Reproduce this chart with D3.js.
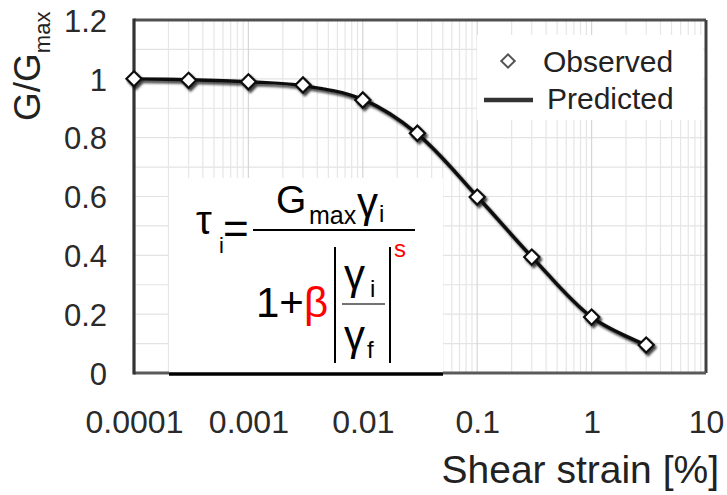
<!DOCTYPE html>
<html><head><meta charset="utf-8">
<script src="https://cdn.jsdelivr.net/npm/d3@7"></script>
<style>body{margin:0;background:#fff}svg{display:block}text{font-family:"Liberation Sans",Arial,sans-serif}</style>
</head><body><svg id="c" width="727" height="495"></svg>
<script>
// ---- data ----
const strain = [0.0001, 0.0003, 0.001, 0.003, 0.01, 0.03, 0.1, 0.3, 1, 3];
const observed = [1.0, 0.995, 0.99, 0.979, 0.928, 0.815, 0.598, 0.394, 0.19, 0.095];
const predicted = [1.0, 0.997, 0.99, 0.977, 0.93, 0.813, 0.6, 0.395, 0.19, 0.095];
const xTicks = [0.0001, 0.001, 0.01, 0.1, 1, 10];
const xTickLabels = ["0.0001", "0.001", "0.01", "0.1", "1", "10"];
const yTicks = [0, 0.2, 0.4, 0.6, 0.8, 1, 1.2];
const yTickLabels = ["0", "0.2", "0.4", "0.6", "0.8", "1", "1.2"];
const yGridValues = [0.1, 0.2, 0.3, 0.4, 0.5, 0.6, 0.7, 0.8, 0.9, 1.0, 1.1];
const legendLabels = ["Observed", "Predicted"];
const xTitle = "Shear strain [%]";

// ---- setup ----
const svg = d3.select("#c");
const x = d3.scaleLog().domain([1e-4, 10]).range([134, 706]);
const y = d3.scaleLinear().domain([0, 1.2]).range([373, 20]);

const defs = svg.append("defs");
const f = defs.append("filter").attr("id", "sh").attr("x", "-20%").attr("y", "-20%").attr("width", "140%").attr("height", "140%");
f.append("feDropShadow").attr("dx", 2).attr("dy", 2.5).attr("stdDeviation", 1.2)
  .attr("flood-color", "#000").attr("flood-opacity", 0.75);

// ---- grid ----
const grid = svg.append("g");
grid.selectAll("line.h").data(yGridValues).join("line")
  .attr("x1", x.range()[0]).attr("x2", x.range()[1])
  .attr("y1", d => y(d)).attr("y2", d => y(d))
  .attr("stroke", "#e3e3e3").attr("stroke-width", 1.2);
grid.selectAll("line.v").data(x.ticks()).join("line")
  .attr("x1", d => x(d)).attr("x2", d => x(d))
  .attr("y1", y.range()[1]).attr("y2", y.range()[0])
  .attr("stroke", d => xTicks.includes(d) ? "#d6d6d6" : "#e6e6e6").attr("stroke-width", 1.2);

// ---- frame ----
svg.append("line").attr("x1", x.range()[0]).attr("x2", x.range()[1]).attr("y1", y(1.2)).attr("y2", y(1.2))
  .attr("stroke", "#505050").attr("stroke-width", 3);
svg.append("line").attr("x1", x.range()[1]).attr("x2", x.range()[1]).attr("y1", y(1.2)).attr("y2", y(0))
  .attr("stroke", "#404040").attr("stroke-width", 3);
svg.append("line").attr("x1", x.range()[0]).attr("x2", x.range()[1]).attr("y1", y(0)).attr("y2", y(0))
  .attr("stroke", "#5a5a5a").attr("stroke-width", 3);
svg.append("line").attr("x1", x.range()[0]).attr("x2", x.range()[0]).attr("y1", y(1.2) - 1.5).attr("y2", y(0) + 1.5)
  .attr("stroke", "#333").attr("stroke-width", 3.2);

// ---- axes ----
const xa = svg.append("g").attr("transform", `translate(0,${y(0)})`)
  .call(d3.axisBottom(x).tickValues(xTicks).tickFormat((d, i) => xTickLabels[i]).tickSize(0));
xa.select(".domain").remove();
xa.selectAll("text").attr("y", 60).attr("dy", 0).attr("font-size", 32).attr("fill", "#2a2a2a")
  .style("font-family", '"Liberation Sans", Arial, sans-serif');

const ya = svg.append("g").attr("transform", `translate(${x.range()[0]},0)`)
  .call(d3.axisLeft(y).tickValues(yTicks).tickFormat((d, i) => yTickLabels[i]).tickSize(0));
ya.select(".domain").remove();
ya.selectAll("text").attr("x", -27).attr("dy", "0.36em").attr("font-size", 31).attr("fill", "#2a2a2a")
  .style("font-family", '"Liberation Sans", Arial, sans-serif');

// axis titles
svg.append("text").attr("x", 719).attr("y", 483).attr("text-anchor", "end")
  .attr("font-size", 39).attr("fill", "#222").text(xTitle);
const yt = svg.append("text").attr("transform", "translate(40,121) rotate(-90)")
  .attr("font-size", 37).attr("fill", "#222");
yt.append("tspan").text("G/G");
yt.append("tspan").attr("font-size", 22).attr("dy", 10).text("max");

// ---- legend box ----
svg.append("rect").attr("x", 477).attr("y", 35).attr("width", 226).attr("height", 85).attr("fill", "#fff");

// ---- formula box ----
svg.append("rect").attr("x", 169).attr("y", 178).attr("width", 274).attr("height", 195).attr("fill", "#fff");
svg.append("line").attr("x1", 169).attr("x2", 443).attr("y1", 374).attr("y2", 374)
  .attr("stroke", "#000").attr("stroke-width", 3.5);

// ---- series ----
const series = svg.append("g").attr("filter", "url(#sh)");
const line = d3.line().x((d, i) => x(strain[i])).y(d => y(d)).curve(d3.curveCatmullRom.alpha(0.5));
series.append("path").datum(predicted).attr("d", line)
  .attr("fill", "none").attr("stroke", "#111").attr("stroke-width", 3.4);
const sym = d3.symbol(d3.symbolSquare, 115);
series.selectAll("path.pt").data(observed).join("path").attr("class", "pt")
  .attr("d", sym)
  .attr("transform", (d, i) => `translate(${x(strain[i])},${y(d)}) rotate(45)`)
  .attr("fill", "#fff").attr("stroke", "#111").attr("stroke-width", 2.2);

// ---- legend ----
const lg = svg.append("g");
lg.append("path").attr("d", d3.symbol(d3.symbolSquare, 90))
  .attr("transform", "translate(508,61) rotate(45)")
  .attr("fill", "#fff").attr("stroke", "#555").attr("stroke-width", 2);
lg.append("line").attr("x1", 484).attr("x2", 533).attr("y1", 100).attr("y2", 100)
  .attr("stroke", "#333").attr("stroke-width", 4.5);
lg.selectAll("text").data(legendLabels).join("text")
  .attr("x", (d, i) => i === 0 ? 543 : 547).attr("y", (d, i) => i === 0 ? 72 : 109)
  .attr("font-size", 30).attr("fill", "#222").text(d => d);

// ---- formula ----
const fm = svg.append("g").attr("fill", "#000");
function t(xp, yp, size, txt, color) {
  return fm.append("text").attr("x", xp).attr("y", yp).attr("font-size", size)
    .attr("fill", color || "#000").text(txt);
}
t(196, 234, 40, "τ");
t(219, 253, 22, "i");
t(223, 244, 44, "=");
fm.append("line").attr("x1", 253).attr("x2", 415).attr("y1", 230).attr("y2", 230).attr("stroke", "#000").attr("stroke-width", 2);
t(276, 213, 39, "G");
t(309, 224, 25, "max");
t(357, 217, 42, "γ");
t(379, 222, 24, "i");
t(256, 317, 42, "1+");
t(304, 317, 42, "β", "#ff0000");
fm.append("line").attr("x1", 335).attr("x2", 335).attr("y1", 247).attr("y2", 363).attr("stroke", "#000").attr("stroke-width", 2);
fm.append("line").attr("x1", 390).attr("x2", 390).attr("y1", 247).attr("y2", 363).attr("stroke", "#000").attr("stroke-width", 2);
t(344, 289, 42, "γ");
t(370, 297, 24, "i");
fm.append("line").attr("x1", 342).attr("x2", 385).attr("y1", 304).attr("y2", 304).attr("stroke", "#444").attr("stroke-width", 1.5);
t(344, 350, 42, "γ");
t(367, 358, 24, "f");
t(394, 257, 24, "s", "#ff0000");
</script></body></html>
